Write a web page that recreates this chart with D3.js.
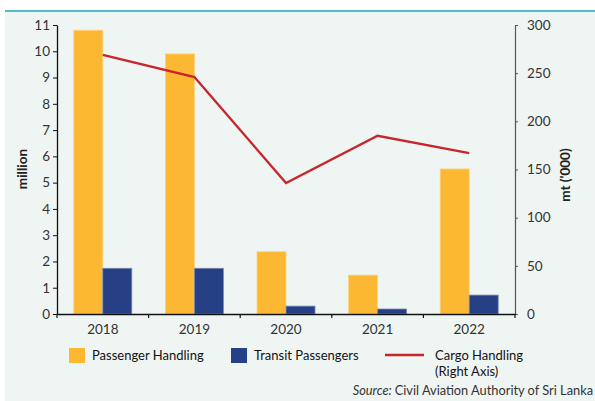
<!DOCTYPE html>
<html>
<head>
<meta charset="utf-8">
<script src="https://cdn.jsdelivr.net/npm/d3@7"></script>
<style>
  body { margin: 0; background: #fff; }
  text { font-family: Lato, "Open Sans", sans-serif; fill: #333; }
</style>
</head>
<body>
<div id="chart"></div>
<script>
var years = ["2018", "2019", "2020", "2021", "2022"];
var passenger = [10.8, 9.9, 2.37, 1.48, 5.52];
var transit = [1.74, 1.74, 0.3, 0.19, 0.72];
var cargo = [269, 246, 136, 185, 167];
var leftTicks = [0, 1, 2, 3, 4, 5, 6, 7, 8, 9, 10, 11];
var rightTicks = [0, 50, 100, 150, 200, 250, 300];

var W = 595, H = 401;
var svg = d3.select("#chart").append("svg")
    .attr("width", W)
    .attr("height", H);

// panel background + top rule
svg.append("rect")
    .attr("x", 5).attr("y", 11)
    .attr("width", W - 5).attr("height", H - 11)
    .attr("fill", "#eff5f3");
svg.append("line")
    .attr("x1", 5).attr("x2", W)
    .attr("y1", 11).attr("y2", 11)
    .style("stroke", "#4cbfca")
    .style("stroke-width", 2);

var plotL = 57, plotR = 515, plotT = 25, plotB = 314;

var x = d3.scaleBand().domain(years).range([plotL, plotR]);
var xi = d3.scaleBand().domain(["p", "t"]).range([0, 58]);
var yL = d3.scaleLinear().domain([0, 11]).range([plotB, plotT]);
var yR = d3.scaleLinear().domain([0, 300]).range([plotB, plotT]);

var g = svg.append("g");

// bars
years.forEach(function (yr, i) {
    var x0 = x(yr) + (x.bandwidth() - 58) / 2;
    g.append("rect")
        .attr("x", x0 + xi("p"))
        .attr("y", yL(passenger[i]))
        .attr("width", xi.bandwidth())
        .attr("height", plotB - yL(passenger[i]))
        .attr("fill", "#fdb833")
        .attr("stroke", "#fdd27a")
        .attr("stroke-width", 0.8);
    g.append("rect")
        .attr("x", x0 + xi("t"))
        .attr("y", yL(transit[i]))
        .attr("width", xi.bandwidth())
        .attr("height", plotB - yL(transit[i]))
        .attr("fill", "#263f85")
        .attr("stroke", "#7d8bb5")
        .attr("stroke-width", 0.8);
});

// cargo line
var line = d3.line()
    .x(function (d, i) { return x(years[i]) + x.bandwidth() / 2; })
    .y(function (d) { return yR(d); });
g.append("path")
    .datum(cargo)
    .attr("d", line)
    .attr("fill", "none")
    .style("stroke", "#c8252c")
    .style("stroke-width", 2.4);

// left axis
var axL = svg.append("g")
    .attr("transform", "translate(" + plotL + ",0)")
    .call(d3.axisLeft(yL).tickValues(leftTicks).tickSize(4).tickPadding(3).tickSizeOuter(0));
axL.select(".domain").style("stroke", "#111").style("stroke-width", 1.3);
axL.selectAll(".tick line").style("stroke", "#111");
axL.selectAll("text").style("font-size", "13.5px").style("fill", "#333");

// right axis
var axR = svg.append("g")
    .attr("transform", "translate(" + plotR + ",0)")
    .call(d3.axisRight(yR).tickValues(rightTicks).tickSize(3).tickPadding(9).tickSizeOuter(0));
axR.select(".domain").style("stroke", "#555").style("stroke-width", 1.2);
axR.selectAll(".tick line").style("stroke", "#555");
axR.selectAll("text").style("font-size", "13.5px").style("fill", "#333");

// x axis
var axX = svg.append("g")
    .attr("transform", "translate(0," + plotB + ")")
    .call(d3.axisBottom(x).tickSize(0).tickPadding(10));
axX.select(".domain").style("stroke", "#111").style("stroke-width", 1.3);
axX.selectAll("text").style("font-size", "13.5px").style("fill", "#333");
years.concat(["end"]).forEach(function (yr, i) {
    var xx = i < years.length ? x(yr) : plotR;
    axX.append("line")
        .attr("x1", xx).attr("x2", xx)
        .attr("y1", 0).attr("y2", 4)
        .style("stroke", "#111")
        .style("stroke-width", 1.2);
});

// axis titles
svg.append("text")
    .attr("transform", "translate(27,169) rotate(-90)")
    .attr("text-anchor", "middle")
    .style("font-size", "13.5px")
    .style("font-weight", "bold")
    .style("fill", "#222")
    .text("million");
svg.append("text")
    .attr("transform", "translate(570,175) rotate(-90)")
    .attr("text-anchor", "middle")
    .style("font-size", "13.5px")
    .style("font-weight", "bold")
    .style("fill", "#222")
    .text("mt ('000)");

// legend
svg.append("rect")
    .attr("x", 69).attr("y", 348)
    .attr("width", 16).attr("height", 15)
    .attr("fill", "#fdb833");
svg.append("text")
    .attr("x", 92).attr("y", 360)
    .style("font-size", "13px")
    .style("fill", "#111")
    .text("Passenger Handling");
svg.append("rect")
    .attr("x", 231).attr("y", 348)
    .attr("width", 16).attr("height", 15)
    .attr("fill", "#263f85");
svg.append("text")
    .attr("x", 254).attr("y", 360)
    .style("font-size", "13px")
    .style("fill", "#111")
    .text("Transit Passengers");
svg.append("line")
    .attr("x1", 385).attr("x2", 424)
    .attr("y1", 355).attr("y2", 355)
    .style("stroke", "#c8252c")
    .style("stroke-width", 2.4);
svg.append("text")
    .attr("x", 435).attr("y", 360)
    .style("font-size", "13px")
    .style("fill", "#111")
    .text("Cargo Handling");
svg.append("text")
    .attr("x", 435).attr("y", 376)
    .style("font-size", "13px")
    .style("fill", "#111")
    .text("(Right Axis)");

// source
var src = svg.append("text")
    .attr("x", 593).attr("y", 395)
    .attr("text-anchor", "end")
    .style("font-size", "12.8px")
    .style("fill", "#333");
src.append("tspan").style("font-style", "italic").text("Source: ");
src.append("tspan").text("Civil Aviation Authority of Sri Lanka");
</script>
</body>
</html>
